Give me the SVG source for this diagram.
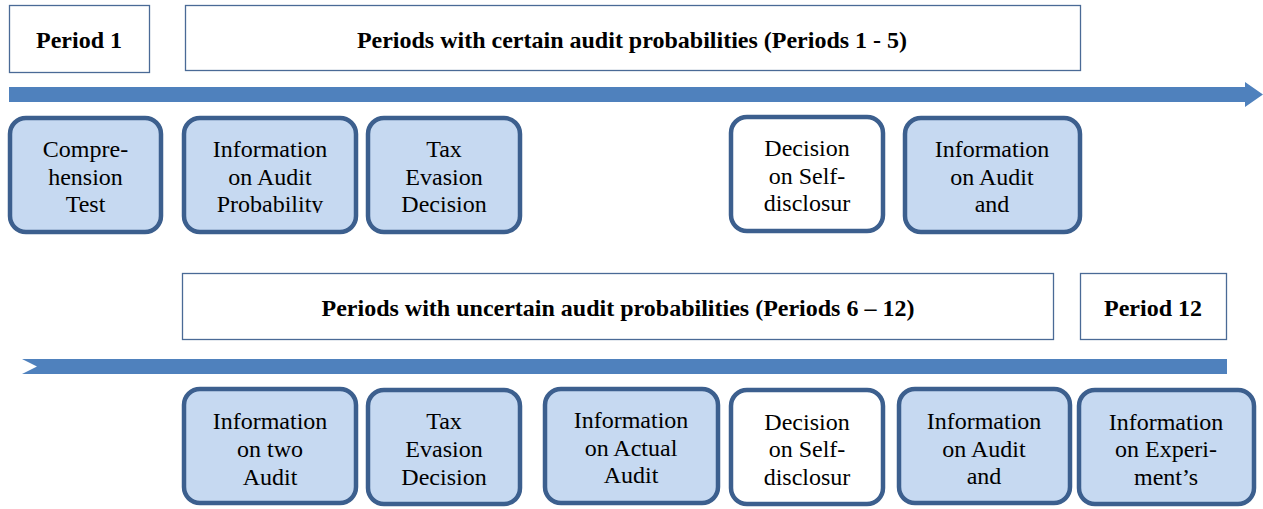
<svg xmlns="http://www.w3.org/2000/svg" width="1263" height="509" viewBox="0 0 1263 509">
<style>
.hdr{fill:#fff;stroke:#4a6a96;stroke-width:1.3}
.ht{font-weight:bold;font-size:24px;fill:#000;text-anchor:middle}
.st{fill:#c6d9f1;stroke:#3c5f8e;stroke-width:4.5}
.sw{fill:#fff;stroke:#3c5f8e;stroke-width:4.5}
.t{font-size:24px;fill:#000;text-anchor:middle}
.bar{fill:#4f81bd}
</style>
<defs>
<clipPath id="c1"><rect x="0" y="120" width="1263" height="93"/></clipPath>
</defs>
<g id="connectors">
<polygon class="bar" points="9,87 1245,87 1245,82 1263,94.5 1245,107 1245,102 9,102"/>
<polygon class="bar" points="22,359 1227,359 1227,374 22,374 37,366.5"/>
</g>
<g font-family="Liberation Serif, Times New Roman, serif">
<g id="period1"><rect class="hdr" x="9.5" y="5.5" width="140" height="67"/><text class="ht" x="79" y="48">Period 1</text></g>
<g id="certain"><rect class="hdr" x="185.5" y="5.5" width="895" height="65"/><text class="ht" x="632" y="48">Periods with certain audit probabilities (Periods 1 - 5)</text></g>
<g id="uncertain"><rect class="hdr" x="182.5" y="273.5" width="871" height="66"/><text class="ht" x="618" y="316">Periods with uncertain audit probabilities (Periods 6 – 12)</text></g>
<g id="period12"><rect class="hdr" x="1080.5" y="273.5" width="146" height="66"/><text class="ht" x="1153" y="316">Period 12</text></g>

<g id="comprehension"><rect class="st" x="10" y="118" width="151" height="114" rx="16"/>
<text class="t" x="85.5" y="157">Compre-</text><text class="t" x="85.5" y="185">hension</text><text class="t" x="85.5" y="212">Test</text></g>
<g id="infoAuditProb"><rect class="st" x="184" y="118" width="172" height="114" rx="16"/>
<g clip-path="url(#c1)"><text class="t" x="270" y="157">Information</text><text class="t" x="270" y="185">on Audit</text><text class="t" x="270" y="212">Probability</text></g></g>
<g id="taxEvasion1"><rect class="st" x="368" y="118" width="152" height="114" rx="16"/>
<text class="t" x="444" y="157">Tax</text><text class="t" x="444" y="185">Evasion</text><text class="t" x="444" y="212">Decision</text></g>
<g id="selfDisclosure1"><rect class="sw" x="731" y="117" width="152" height="114" rx="16"/>
<text class="t" x="807" y="156">Decision</text><text class="t" x="807" y="184">on Self-</text><text class="t" x="807" y="211">disclosur</text></g>
<g id="infoAuditAnd1"><rect class="st" x="905" y="118" width="175" height="114" rx="16"/>
<text class="t" x="992" y="157">Information</text><text class="t" x="992" y="185">on Audit</text><text class="t" x="992" y="212">and</text></g>

<g id="infoTwoAudit"><rect class="st" x="184" y="389" width="172" height="114" rx="16"/>
<text class="t" x="270" y="429">Information</text><text class="t" x="270" y="457">on two</text><text class="t" x="270" y="485">Audit</text></g>
<g id="taxEvasion2"><rect class="st" x="368" y="390" width="152" height="114" rx="16"/>
<text class="t" x="444" y="429">Tax</text><text class="t" x="444" y="457">Evasion</text><text class="t" x="444" y="485">Decision</text></g>
<g id="infoActualAudit"><rect class="st" x="545" y="389" width="173" height="114" rx="16"/>
<text class="t" x="631" y="428">Information</text><text class="t" x="631" y="456">on Actual</text><text class="t" x="631" y="483">Audit</text></g>
<g id="selfDisclosure2"><rect class="sw" x="731" y="390" width="152" height="114" rx="16"/>
<text class="t" x="807" y="430">Decision</text><text class="t" x="807" y="457">on Self-</text><text class="t" x="807" y="485">disclosur</text></g>
<g id="infoAuditAnd2"><rect class="st" x="899" y="389" width="171" height="114" rx="16"/>
<text class="t" x="984" y="429">Information</text><text class="t" x="984" y="457">on Audit</text><text class="t" x="984" y="484">and</text></g>
<g id="infoExperiment"><rect class="st" x="1079" y="390" width="175" height="114" rx="16"/>
<text class="t" x="1166" y="430">Information</text><text class="t" x="1166" y="457">on Experi-</text><text class="t" x="1166" y="485">ment’s</text></g>
</g>
</svg>
